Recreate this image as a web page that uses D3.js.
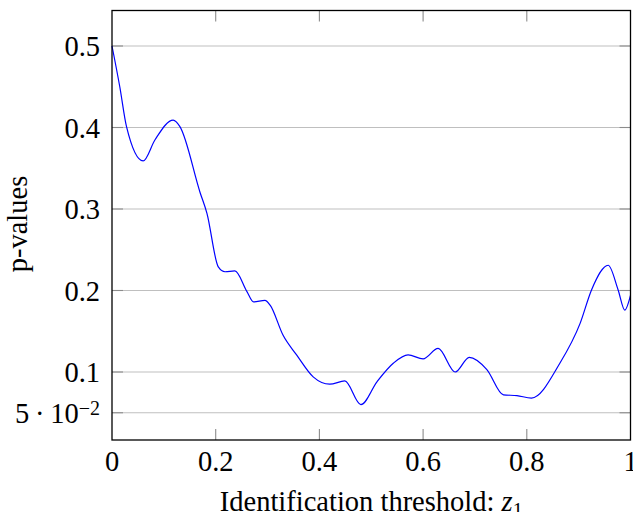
<!DOCTYPE html>
<html>
<head>
<meta charset="utf-8">
<script src="https://cdn.jsdelivr.net/npm/d3@7"></script>
<style>
body { margin: 0; background: #fff; }
text { font-family: "Liberation Serif", "DejaVu Serif", serif; fill: #000; }
</style>
</head>
<body>
<svg id="chart"></svg>
<script>
var width = 633,
    height = 512;

// curve
var xs = [0, 0.015, 0.028, 0.060, 0.083, 0.118, 0.131, 0.170, 0.183, 0.205, 0.218, 0.237,
          0.260, 0.273, 0.295, 0.305, 0.330, 0.356, 0.388, 0.420, 0.449, 0.480, 0.511,
          0.543, 0.571, 0.600, 0.629, 0.662, 0.689, 0.723, 0.755, 0.781, 0.809, 0.864,
          0.903, 0.925, 0.957, 0.976, 0.989, 1.0];
var pvals = [0.500, 0.450, 0.401, 0.359, 0.385, 0.409, 0.401, 0.320, 0.295, 0.229, 0.223, 0.224,
             0.199, 0.186, 0.188, 0.182, 0.145, 0.121, 0.094, 0.085, 0.089, 0.060, 0.088,
             0.111, 0.121, 0.116, 0.129, 0.100, 0.118, 0.103, 0.072, 0.071, 0.068, 0.111,
             0.160, 0.201, 0.231, 0.201, 0.176, 0.194];

var xTicks = [0, 0.2, 0.4, 0.6, 0.8, 1];
var xTickLabels = ["0", "0.2", "0.4", "0.6", "0.8", "1"];
var yTicks = [0.05, 0.1, 0.2, 0.3, 0.4, 0.5];
var yTickLabels = ["5\u2009·\u200910", "0.1", "0.2", "0.3", "0.4", "0.5"];

var margin = {top: 10.5, right: 2.5, bottom: 72, left: 112};
var w = width - margin.left - margin.right,
    h = height - margin.top - margin.bottom;

var x = d3.scaleLinear().domain([0, 1]).range([0, w]);
var y = d3.scaleLinear().domain([0.01656, 0.54356]).range([h, 0]);

const svg = d3.select("#chart")
    .attr("width", width)
    .attr("height", height);

var g = svg.append("g")
    .attr("transform", "translate(" + margin.left + "," + margin.top + ")");

// horizontal grid
g.selectAll(".grid")
    .data(yTicks)
    .enter().append("line")
    .attr("x1", 0).attr("x2", w)
    .attr("y1", d => y(d)).attr("y2", d => y(d))
    .attr("stroke", "#bfbfbf")
    .attr("stroke-width", 1.1);

// tick marks on both sides
[0, w].forEach(function (side) {
    g.selectAll(null)
        .data(yTicks)
        .enter().append("line")
        .attr("x1", side).attr("x2", side === 0 ? 11 : w - 11)
        .attr("y1", d => y(d)).attr("y2", d => y(d))
        .attr("stroke", "#8c8c8c")
        .attr("stroke-width", 1.1);
});
[0, h].forEach(function (side) {
    g.selectAll(null)
        .data(xTicks.slice(1, -1))
        .enter().append("line")
        .attr("x1", d => x(d)).attr("x2", d => x(d))
        .attr("y1", side).attr("y2", side === 0 ? 11 : h - 11)
        .attr("stroke", "#8c8c8c")
        .attr("stroke-width", 1.1);
});

// the curve
var line = d3.line()
    .x(d => x(d[0]))
    .y(d => y(d[1]))
    .curve(d3.curveMonotoneX);

g.append("path")
    .datum(xs.map((v, i) => [v, pvals[i]]))
    .attr("fill", "none")
    .attr("stroke", "#0000ff")
    .attr("stroke-width", 1.2)
    .attr("d", line);

// frame
g.append("rect")
    .attr("width", w).attr("height", h)
    .attr("fill", "none")
    .attr("stroke", "#000")
    .attr("stroke-width", 1.3);

// y tick labels
var yl = g.selectAll(".ylab")
    .data(yTicks)
    .enter().append("text")
    .attr("x", -12)
    .attr("y", d => y(d))
    .attr("dy", "0.36em")
    .attr("text-anchor", "end")
    .style("font-size", "28.5px");
yl.each(function (d, i) {
    var t = d3.select(this);
    if (d === 0.05) {
        t.append("tspan").text(yTickLabels[i]);
        t.append("tspan").text("−2").attr("dy", "-0.4em").style("font-size", "20px");
    } else {
        t.text(yTickLabels[i]);
    }
});

// x tick labels
g.selectAll(".xlab")
    .data(xTicks)
    .enter().append("text")
    .attr("x", d => x(d))
    .attr("y", h + 31)
    .attr("text-anchor", "middle")
    .style("font-size", "28.5px")
    .text((d, i) => xTickLabels[i]);

// axis titles
var xt = svg.append("text")
    .attr("x", margin.left + w / 2)
    .attr("y", 510.5)
    .attr("text-anchor", "middle")
    .style("font-size", "28.5px");
xt.append("tspan").text("Identification threshold: ");
xt.append("tspan").text("z").style("font-style", "italic");
xt.append("tspan").text("1").attr("dy", "0.3em").style("font-size", "20px");

svg.append("text")
    .attr("transform", "translate(27," + 224 + ") rotate(-90)")
    .attr("text-anchor", "middle")
    .style("font-size", "28.5px")
    .text("p-values");
</script>
</body>
</html>
